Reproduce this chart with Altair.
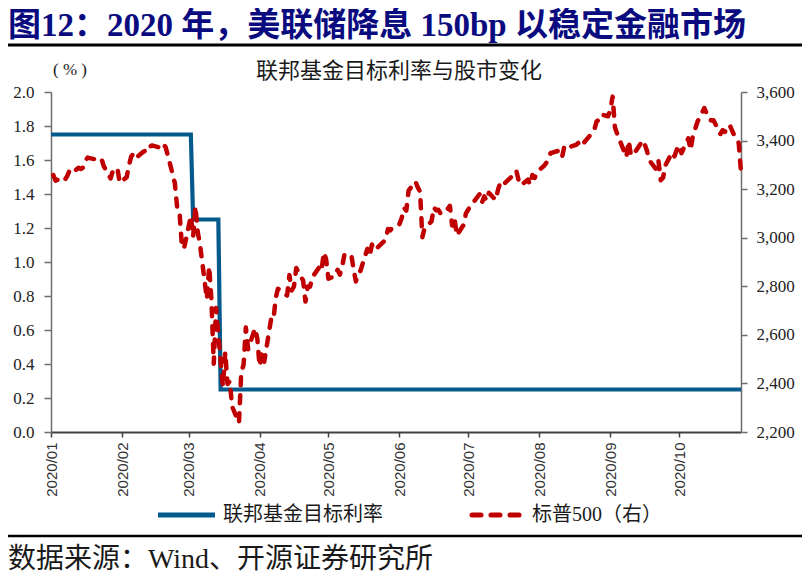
import altair as alt
import pandas as pd

# ---------------- texts ----------------
title_text = "图12：2020 年，美联储降息 150bp 以稳定金融市场"
subtitle_text = "联邦基金目标利率与股市变化"
unit_text = "( % )"
source_text = "数据来源：Wind、开源证券研究所"
rate_name = "联邦基金目标利率"
spx_name = "标普500（右）"

# ---------------- fed funds target rate (%) ----------------
fed_dates = ["2020-01-01", "2020-03-02", "2020-03-03", "2020-03-14", "2020-03-15", "2020-10-28"]
fed_rate = [1.75, 1.75, 1.25, 1.25, 0.25, 0.25]

# ---------------- S&P 500 daily close ----------------
days_01 = [2, 3, 6, 7, 8, 9, 10, 13, 14, 15, 16, 17, 21, 22, 23, 24, 27, 28, 29, 30, 31]
spx_01 = [3258, 3235, 3246, 3237, 3253, 3275, 3265, 3288, 3283, 3289, 3317, 3330, 3321, 3322, 3326, 3295, 3244, 3276, 3273, 3284, 3226]
days_02 = [3, 4, 5, 6, 7, 10, 11, 12, 13, 14, 18, 19, 20, 21, 24, 25, 26, 27, 28]
spx_02 = [3249, 3298, 3335, 3346, 3328, 3352, 3358, 3379, 3374, 3380, 3370, 3386, 3373, 3338, 3226, 3128, 3116, 2979, 2954]
days_03 = [2, 3, 4, 5, 6, 9, 10, 11, 12, 13, 16, 17, 18, 19, 20, 23, 24, 25, 26, 27, 30, 31]
spx_03 = [3090, 3003, 3130, 3024, 2972, 2747, 2882, 2741, 2481, 2711, 2386, 2529, 2398, 2409, 2305, 2237, 2447, 2476, 2630, 2541, 2627, 2585]
days_04 = [1, 2, 3, 6, 7, 8, 9, 13, 14, 15, 16, 17, 20, 21, 22, 23, 24, 27, 28, 29, 30]
spx_04 = [2471, 2527, 2489, 2664, 2659, 2750, 2790, 2762, 2846, 2783, 2800, 2875, 2823, 2737, 2799, 2798, 2837, 2878, 2863, 2940, 2912]
days_05 = [1, 4, 5, 6, 7, 8, 11, 12, 13, 14, 15, 18, 19, 20, 21, 22, 26, 27, 28, 29]
spx_05 = [2831, 2843, 2868, 2848, 2881, 2930, 2930, 2870, 2820, 2853, 2864, 2954, 2923, 2972, 2949, 2955, 2992, 3036, 3030, 3044]
days_06 = [1, 2, 3, 4, 5, 8, 9, 10, 11, 12, 15, 16, 17, 18, 19, 22, 23, 24, 25, 26, 29, 30]
spx_06 = [3056, 3081, 3123, 3112, 3194, 3232, 3207, 3190, 3002, 3041, 3067, 3125, 3113, 3115, 3098, 3118, 3131, 3050, 3084, 3009, 3053, 3100]
days_07 = [1, 2, 6, 7, 8, 9, 10, 13, 14, 15, 16, 17, 20, 21, 22, 23, 24, 27, 28, 29, 30, 31]
spx_07 = [3116, 3130, 3180, 3145, 3170, 3152, 3185, 3155, 3198, 3227, 3216, 3225, 3252, 3257, 3276, 3236, 3216, 3239, 3218, 3258, 3246, 3271]
days_08 = [3, 4, 5, 6, 7, 10, 11, 12, 13, 14, 17, 18, 19, 20, 21, 24, 25, 26, 27, 28, 31]
spx_08 = [3295, 3307, 3328, 3349, 3351, 3360, 3334, 3380, 3373, 3373, 3382, 3390, 3375, 3386, 3397, 3431, 3444, 3479, 3485, 3508, 3500]
days_09 = [1, 2, 3, 4, 8, 9, 10, 11, 14, 15, 16, 17, 18, 21, 22, 23, 24, 25, 28, 29, 30]
spx_09 = [3527, 3581, 3455, 3427, 3332, 3399, 3339, 3341, 3384, 3401, 3385, 3357, 3319, 3281, 3316, 3237, 3247, 3298, 3352, 3335, 3363]
days_10 = [1, 2, 5, 6, 7, 8, 9, 12, 13, 14, 15, 16, 19, 20, 21, 22, 23, 26, 27, 28]
spx_10 = [3381, 3348, 3409, 3361, 3419, 3447, 3477, 3534, 3512, 3489, 3483, 3484, 3427, 3443, 3436, 3453, 3465, 3401, 3391, 3271]

months_days = [days_01, days_02, days_03, days_04, days_05, days_06, days_07, days_08, days_09, days_10]
months_spx = [spx_01, spx_02, spx_03, spx_04, spx_05, spx_06, spx_07, spx_08, spx_09, spx_10]

left_ticks = [0.0, 0.2, 0.4, 0.6, 0.8, 1.0, 1.2, 1.4, 1.6, 1.8, 2.0]
right_ticks = [2200, 2400, 2600, 2800, 3000, 3200, 3400, 3600]
tick_months = [1, 2, 3, 4, 5, 6, 7, 8, 9, 10]

# ---------------- tables ----------------
spx_dates, spx_vals = [], []
for m, (dd, vv) in enumerate(zip(months_days, months_spx), start=1):
    assert len(dd) == len(vv)
    for d, v in zip(dd, vv):
        spx_dates.append(f"2020-{m:02d}-{d:02d}")
        spx_vals.append(v)

fed_df = pd.DataFrame({"date": fed_dates, "rate": fed_rate})
spx_df = pd.DataFrame({"date": spx_dates, "spx": spx_vals})

# ---------------- style ----------------
BLUE = "#045a8d"
RED = "#c00000"
SERIF = "Liberation Serif, Noto Sans CJK SC"
SANS = "Liberation Sans, Arial"
AXIS_GRAY = "#6e6e6e"

x_enc = alt.X(
    "date:T",
    scale=alt.Scale(
        type="utc",
        domain=[alt.DateTime(year=2020, month=1, date=1, utc=True),
                alt.DateTime(year=2020, month=10, date=28, utc=True)],
        nice=False,
    ),
    axis=alt.Axis(
        title=None,
        values=[alt.DateTime(year=2020, month=m, date=1, utc=True) for m in tick_months],
        labelExpr="utcFormat(datum.value, '%Y/%m')",
        labelAngle=-90,
        labelFont=SANS,
        labelFontSize=15,
        labelColor="#333333",
        labelPadding=5,
        tickSize=5,
        tickColor="#404040",
        tickWidth=1.5,
        domainColor="#404040",
        domainWidth=2,
        grid=False,
        labelOverlap=False,
    ),
)

rate_line = alt.Chart(fed_df).mark_line(
    color=BLUE, strokeWidth=4.2, interpolate="linear", clip=False
).encode(
    x=x_enc,
    y=alt.Y(
        "rate:Q",
        scale=alt.Scale(domain=[0, 2], nice=False, zero=True),
        axis=alt.Axis(
            orient="left",
            title=None,
            values=left_ticks,
            format=".1f",
            labelFont=SERIF,
            labelFontSize=17,
            labelColor="#222222",
            labelPadding=10,
            tickSize=7,
            tickColor=AXIS_GRAY,
            tickWidth=1.5,
            domainColor=AXIS_GRAY,
            domainWidth=1.5,
            grid=False,
        ),
    ),
)

spx_line = alt.Chart(spx_df).mark_line(
    color=RED, strokeWidth=4.5, strokeDash=[8, 10], strokeCap="round", strokeJoin="round"
).encode(
    x=x_enc,
    y=alt.Y(
        "spx:Q",
        scale=alt.Scale(domain=[2200, 3600], nice=False, zero=False),
        axis=alt.Axis(
            orient="right",
            title=None,
            values=right_ticks,
            format=",d",
            labelFont=SERIF,
            labelFontSize=17,
            labelColor="#222222",
            labelPadding=9,
            tickSize=6,
            tickColor=AXIS_GRAY,
            tickWidth=1.5,
            domainColor=AXIS_GRAY,
            domainWidth=1.5,
            grid=False,
        ),
    ),
)


def text_layer(txt, x, y, size, align="left", weight="normal", color="#1a1a1a", font=SERIF):
    return alt.Chart(pd.DataFrame({"t": [txt]})).mark_text(
        align=align, baseline="middle", fontSize=size, fontWeight=weight, color=color, font=font
    ).encode(text="t:N", x=alt.value(x), y=alt.value(y))


def rule_layer(x1, x2, y, color, width, dash=None):
    kw = dict(color=color, strokeWidth=width)
    if dash is not None:
        kw.update(strokeDash=dash, strokeCap="round")
    return alt.Chart(pd.DataFrame({"k": [0]})).mark_rule(**kw).encode(
        x=alt.value(x1), x2=alt.value(x2), y=alt.value(y)
    )


decor = [
    text_layer(title_text, -43, -66, 33, weight="bold", color="#0b0b80"),
    rule_layer(-43, 751, -47, "#000000", 3),
    text_layer(subtitle_text, 348, -21, 22, align="center"),
    text_layer(unit_text, 19, -22, 17, align="center"),
    rule_layer(107, 164, 423, BLUE, 5),
    text_layer(rate_name, 172, 423, 20),
    rule_layer(421, 469, 423, RED, 5, dash=[9, 10]),
    text_layer(spx_name, 481, 423, 20),
    rule_layer(-43, 751, 444, "#000000", 2.5),
    text_layer(source_text, -43, 468, 28),
]

chart = alt.layer(rate_line, spx_line, *decor).resolve_scale(y="independent").properties(
    width=690,
    height=340,
    autosize=alt.AutoSizeParams(type="none"),
    padding={"left": 43, "top": 84, "right": 61, "bottom": 142},
    background="white",
).configure_view(stroke=None)

chart.save("out.html", embed_options={"renderer": "svg", "actions": False})
